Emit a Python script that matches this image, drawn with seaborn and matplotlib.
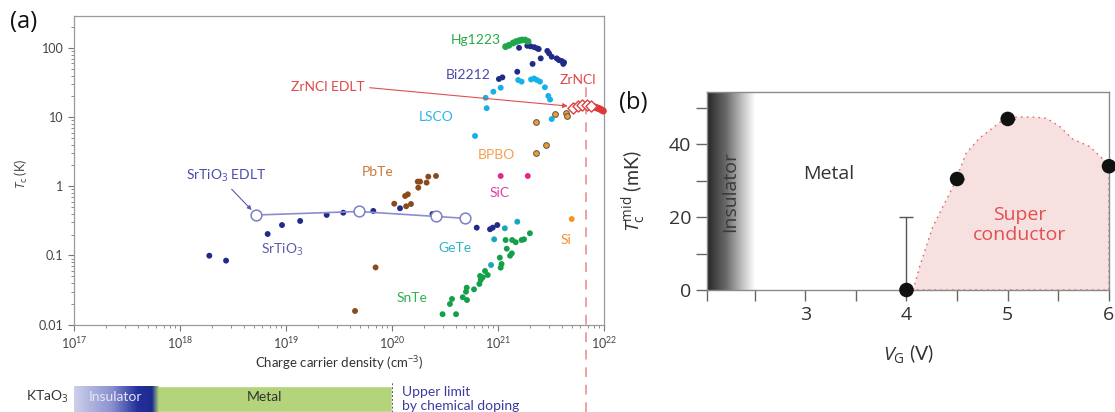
import numpy as np
import pandas as pd
import matplotlib
matplotlib.use("Agg")
import matplotlib.pyplot as plt
import seaborn as sns
from matplotlib.colors import LinearSegmentedColormap
from matplotlib.transforms import blended_transform_factory
from matplotlib.ticker import LogLocator, NullFormatter, FixedLocator

sns.set_style("white")
plt.rcParams['font.family'] = ['Lato', 'DejaVu Sans']
plt.rcParams['mathtext.fontset'] = 'custom'
plt.rcParams['mathtext.rm'] = 'Open Sans'
plt.rcParams['mathtext.it'] = 'Open Sans:italic'
plt.rcParams['mathtext.bf'] = 'Open Sans:bold'

# ---------------- panel (a) data: carrier density (cm^-3) vs Tc (K) ----------------
srtio3_n = [1.89e18, 2.72e18, 6.71e18, 9.17e18, 1.36e19, 2.42e19, 3.47e19, 6.66e19,
            1.19e20, 2.41e20, 6.3e20, 8.41e20, 8.92e20, 9.85e20]
srtio3_tc = [0.099, 0.084, 0.204, 0.275, 0.315, 0.385, 0.415, 0.44,
             0.481, 0.397, 0.252, 0.239, 0.252, 0.275]

srtio3_edlt_n = [5.2e18, 4.85e19, 2.6e20, 4.89e20]
srtio3_edlt_tc = [0.384, 0.432, 0.366, 0.344]

pbte_n = [4.48e19, 7.0e19, 1.05e20, 1.36e20, 1.51e20, 1.33e20, 1.41e20, 1.77e20,
          1.75e20, 1.84e20, 2.12e20, 2.20e20, 2.60e20]
pbte_tc = [0.0157, 0.067, 0.56, 0.514, 0.554, 0.724, 0.766, 0.955,
           1.17, 1.17, 1.13, 1.38, 1.41]

snte_n = [3.0e20, 4.02e20, 3.52e20, 3.68e20, 4.65e20, 5.10e20, 4.99e20, 5.07e20, 5.94e20,
          6.67e20, 6.87e20, 6.77e20, 7.18e20, 7.54e20, 8.0e20, 1.06e21, 1.08e21, 1.04e21,
          1.21e21, 1.30e21, 1.35e21, 1.18e21, 1.36e21, 1.47e21, 1.67e21, 1.76e21, 2.0e21]
snte_tc = [0.0141, 0.0141, 0.0198, 0.0234, 0.0248, 0.0226, 0.0298, 0.0341, 0.0323,
           0.0386, 0.0441, 0.0504, 0.0482, 0.0595, 0.052, 0.0664, 0.0751, 0.0927,
           0.125, 0.099, 0.107, 0.167, 0.167, 0.155, 0.167, 0.171, 0.209]

gete_n = [8.6e20, 9.2e20, 1.16e21, 1.52e21]
gete_tc = [0.0726, 0.171, 0.247, 0.307]

sic_n = [1.06e21, 1.91e21]
sic_tc = [1.41, 1.41]

si_n = [4.96e21]
si_tc = [0.336]

bpbo_n = [2.27e21, 3.43e21, 4.39e21, 4.45e21, 2.81e21, 2.27e21]
bpbo_tc = [8.58, 11.3, 11.5, 10.4, 3.96, 3.0]

lsco_n = [6.07e20, 7.82e20, 7.65e20, 9.04e20, 1.06e21, 1.55e21, 1.67e21, 2.05e21,
          2.19e21, 2.33e21, 2.49e21, 2.77e21, 2.98e21, 3.10e21, 3.21e21]
lsco_tc = [5.35, 13.5, 19.1, 23.4, 26.7, 34.5, 32.7, 35.2,
           36.3, 34.5, 32.7, 27.1, 20.3, 18.0, 9.4]

bi2212_n = [1.58e21, 1.89e21, 2.03e21, 2.20e21, 2.35e21, 2.42e21, 2.92e21, 3.03e21,
            3.21e21, 3.58e21, 3.76e21, 3.99e21, 4.20e21, 4.13e21, 2.53e21, 2.12e21,
            1.52e21, 1.10e21, 1.02e21]
bi2212_tc = [101, 108, 106, 103, 99, 97, 91, 84, 75, 71, 67, 65, 62, 59, 71, 59,
             45.5, 37.7, 35.7]

hg1223_n = [1.18e21, 1.27e21, 1.39e21, 1.48e21, 1.58e21, 1.68e21, 1.80e21, 1.92e21]
hg1223_tc = [105, 110, 118.5, 124, 128, 131, 131, 125]

zrncl_edlt_n = [5.15e21, 5.69e21, 6.2e21, 6.84e21, 7.47e21]
zrncl_edlt_tc = [13.8, 14.5, 15.0, 15.0, 14.3]

zrncl_n = [7.93e21, 8.2e21, 8.53e21, 8.85e21, 9.17e21, 9.5e21, 9.84e21]
zrncl_tc = [14.2, 14.0, 13.7, 13.4, 13.1, 12.7, 12.3]

chem_doping_limit = 6.76e21

# KTaO3 bar (boundaries as log10 carrier density)
ktao_regions = ['Insulator', 'Metal']
ktao_bounds = [17.0, 17.80, 20.0]

# ---------------- panel (b) data ----------------
vg = [4.0, 4.5, 5.0, 6.0]
tc_mid = [0.0, 30.5, 47.0, 34.0]
tc_err_up = [20.0, 0.0, 0.0, 0.0]

dome_v = [4.066, 4.13, 4.26, 4.46, 4.59, 4.72, 4.99, 5.25, 5.38, 5.51, 5.64, 5.81, 6.0]
dome_t = [0.0, 6.4, 17.4, 28.4, 37.6, 41.7, 47.5, 47.5, 47.2, 45.0, 41.5, 39.4, 34.4]

# ---------------- figure ----------------
W, H = 1115, 412
fig = plt.figure(figsize=(W / 100, H / 100), dpi=100)

def frac(l, t, r, b):
    return [l / W, (H - b) / H, (r - l) / W, (b - t) / H]

ax = fig.add_axes(frac(74, 16, 604, 324.5))
ax.set_xscale('log')
ax.set_yscale('log')

def dots(x, y, color, s=18, **kw):
    sns.scatterplot(x=x, y=y, ax=ax, color=color, s=s, edgecolor=kw.pop('edgecolor', 'none'),
                    linewidth=kw.pop('linewidth', 0), legend=False, zorder=kw.pop('zorder', 3), **kw)

dots(srtio3_n, srtio3_tc, '#1f2a8a')
dots(pbte_n, pbte_tc, '#8a4a1c')
dots(snte_n, snte_tc, '#14a04a')
dots(gete_n, gete_tc, '#1aa8b8')
dots(sic_n, sic_tc, '#e0288c')
dots(si_n, si_tc, '#f7941d')
dots(lsco_n, lsco_tc, '#18b0e8')
dots(bi2212_n, bi2212_tc, '#1f2a8a')
dots(hg1223_n, hg1223_tc, '#1fa64a', s=24)
dots(bpbo_n, bpbo_tc, '#f39a2e', s=17, edgecolor='#555555', linewidth=0.7)
dots(zrncl_n, zrncl_tc, '#e0383a', s=26, clip_on=False)

sns.lineplot(x=srtio3_edlt_n, y=srtio3_edlt_tc, ax=ax, sort=False, color='#8a8ed0', lw=1.2,
             legend=False, zorder=3)
dots(srtio3_edlt_n, srtio3_edlt_tc, 'white', s=60, edgecolor='#7b80c8', linewidth=1.1, zorder=4)
dots(zrncl_edlt_n, zrncl_edlt_tc, 'white', s=32, marker='D', edgecolor='#e04040', linewidth=1.0, zorder=4)

ax.set_xlim(1e17, 1e22)
ax.set_ylim(0.01, 291.4)

lab = dict(fontsize=10, ha='center', va='center', family=['Lato', 'DejaVu Sans'])
ax.text(6.12e20, 131, 'Hg1223', color='#2aa84a', **lab)
ax.text(5.21e20, 40.8, 'Bi2212', color='#4a4aa8', **lab)
ax.text(2.63e20, 10.2, 'LSCO', color='#2bb5ea', **lab)
ax.text(5.62e21, 34.5, 'ZrNCl', color='#e04848', **lab)
ax.text(9.57e20, 2.84, 'BPBO', color='#f5a050', **lab)
ax.text(7.3e19, 1.63, 'PbTe', color='#c87a3c', **lab)
ax.text(1.04e21, 0.792, 'SiC', color='#e040a0', **lab)
ax.text(9.27e18, 0.12, 'SrTiO$_3$', color='#5a5ab0', **lab)
ax.text(3.93e20, 0.127, 'GeTe', color='#30b5c5', **lab)
ax.text(4.38e21, 0.167, 'Si', color='#f59030', **lab)
ax.text(1.56e20, 0.0239, 'SnTe', color='#30b050', **lab)

ax.annotate('ZrNCl EDLT', xy=(4.55e21, 14.5), xytext=(5.56e19, 27.1), ha='right', va='center',
            color='#e04848', fontsize=10,
            arrowprops=dict(arrowstyle='-|>', color='#e05050', lw=0.8, mutation_scale=7,
                            shrinkA=1, shrinkB=0, relpos=(1, 0.5)))
ax.annotate('SrTiO$_3$ EDLT', xy=(4.74e18, 0.454), xytext=(2.75e18, 1.42), ha='center', va='center',
            color='#4a4aa8', fontsize=10,
            arrowprops=dict(arrowstyle='-|>', color='#5a5ab0', lw=0.8, mutation_scale=6,
                            shrinkA=2, shrinkB=0, relpos=(0.5, 0)))

# vertical dashed line: upper limit by chemical doping
tr = blended_transform_factory(ax.transData, fig.transFigure)
ax.plot([chem_doping_limit, chem_doping_limit], [0, 1 - 86 / H], transform=tr, clip_on=False,
        color='#f0a0a0', lw=1.4, ls=(0, (5, 4)), zorder=2)

for sp in ax.spines.values():
    sp.set_color('#9a9a9a')
    sp.set_linewidth(0.9)
ax.tick_params(which='both', direction='out', colors='#777777', labelcolor='#444444',
               labelsize=9, left=True, bottom=True)
ax.tick_params(which='major', length=4, width=0.8)
ax.tick_params(which='minor', length=2.5, width=0.6)
ax.yaxis.set_major_locator(FixedLocator([0.01, 0.1, 1, 10, 100]))
ax.set_yticklabels(['0.01', '0.1', '1', '10', '100'])
ax.yaxis.set_minor_locator(LogLocator(base=10, subs=np.arange(2, 10), numticks=20))
ax.yaxis.set_minor_formatter(NullFormatter())
ax.xaxis.set_major_locator(LogLocator(base=10, numticks=10))
ax.xaxis.set_minor_locator(LogLocator(base=10, subs=np.arange(2, 10), numticks=20))
ax.xaxis.set_minor_formatter(NullFormatter())
ax.set_xlabel('Charge carrier density (cm$^{-3}$)', fontsize=9.5, color='#333333')
ax.xaxis.set_label_coords(0.5, -0.098)
ax.set_ylabel('$T_{\\rm c}$ (K)', fontsize=9, color='#444444')
ax.yaxis.set_label_coords(-0.083, 0.49)

# ---------------- KTaO3 bar ----------------
axk = fig.add_axes(frac(74, 386, 604, 412))
axk.set_xlim(17, 22)
axk.set_ylim(0, 1)
axk.axis('off')
axk.barh([0.5], [ktao_bounds[2] - ktao_bounds[1] + 0.03], left=ktao_bounds[1] - 0.03, height=1,
         color='#b3d47a', zorder=0)
cm_ins = LinearSegmentedColormap.from_list('ins', [(0, '#cdd0ea'), (0.45, '#8990d0'),
                                                   (0.75, '#23309a'), (0.92, '#1c2b8f'),
                                                   (1.0, '#b3d47a')])
axk.imshow(np.linspace(0, 1, 256)[None, :], extent=(ktao_bounds[0], ktao_bounds[1], 0, 1),
           aspect='auto', cmap=cm_ins, zorder=1)
axk.set_xlim(17, 22)
axk.set_ylim(0, 1)
axk.text(17.39, 0.58, ktao_regions[0], color='#e4e6f4', fontsize=10, ha='center', va='center')
axk.text(18.80, 0.58, ktao_regions[1], color='#333333', fontsize=10, ha='center', va='center')
axk.text(16.95, 0.58, 'KTaO$_3$', color='#333333', fontsize=10, ha='right', va='center')
axk.plot([20.0, 20.0], [0, 1.15], color='#555577', lw=0.7, ls=(0, (2, 2)), clip_on=False)
axk.text(20.09, 1.0, 'Upper limit\nby chemical doping', color='#3c3ca0', fontsize=10,
         ha='left', va='top', linespacing=1.25)

# ---------------- panel (b) ----------------
bx = fig.add_axes(frac(707, 92, 1109, 290))
bfont = ['Open Sans', 'DejaVu Sans']
XL, YL = (2.03, 6.0), (0, 54.4)
cm_gray = LinearSegmentedColormap.from_list('g', [(0, '#262626'), (0.4, '#6a6a6a'),
                                                  (0.75, '#c4c4c4'), (1.0, '#ffffff')])
bx.imshow(np.linspace(0, 1, 256)[None, :], extent=(XL[0], 2.5, YL[0], YL[1]), aspect='auto',
          cmap=cm_gray, zorder=0)
bx.fill(dome_v + [6.0, dome_v[0]], dome_t + [0.0, 0.0], facecolor='#f6e0e0', edgecolor='#e06a6a',
        linestyle=(0, (1.2, 3)), lw=1.0, zorder=1)
bx.errorbar(vg, tc_mid, yerr=[[0] * len(vg), tc_err_up], fmt='none', ecolor='#555555',
            elinewidth=1.0, capsize=4.7, capthick=1.0, zorder=2)
sns.scatterplot(x=vg, y=tc_mid, ax=bx, color='#111111', s=110, edgecolor='none', legend=False,
                zorder=4, clip_on=False)
bx.set_xlim(*XL)
bx.set_ylim(*YL)
bx.text(2.26, 27, 'Insulator', rotation=90, color='#3a3a3a', fontsize=14, ha='center',
        va='center', family=bfont)
bx.text(3.23, 32, 'Metal', color='#333333', fontsize=14, ha='center', va='center', family=bfont)
bx.text(5.12, 17.9, 'Super\nconductor', color='#e05050', fontsize=14, ha='center', va='center',
        family=bfont, linespacing=1.1)

for sp in bx.spines.values():
    sp.set_color('#8a8a8a')
    sp.set_linewidth(1.0)
bx.set_xticks([3, 4, 5, 6])
bx.set_xticks([XL[0], 2.5, 3.5, 4.5, 5.5], minor=True)
bx.set_yticks([0, 20, 40])
bx.set_yticks([10, 30, 50], minor=True)
bx.tick_params(which='both', direction='out', length=8, width=1.0, colors='#666666',
               labelcolor='#333333', labelsize=14, left=True, bottom=True)
for t in bx.get_xticklabels() + bx.get_yticklabels():
    t.set_family(bfont)
bx.set_xlabel('$V_{\\rm G}$ (V)', fontsize=14, color='#333333')
bx.xaxis.set_label_coords(0.5, -0.265)
bx.set_ylabel('$T_{\\rm c}^{\\rm mid}$ (mK)', fontsize=14, color='#333333')
bx.yaxis.set_label_coords(-0.148, 0.5)

fig.text(10 / W, 1 - 22 / H, '(a)', fontsize=17, ha='left', va='center', family=bfont, color='#111111')
fig.text(619 / W, 1 - 103 / H, '(b)', fontsize=17, ha='left', va='center', family=bfont, color='#111111')

fig.savefig('out.png', dpi=100)
